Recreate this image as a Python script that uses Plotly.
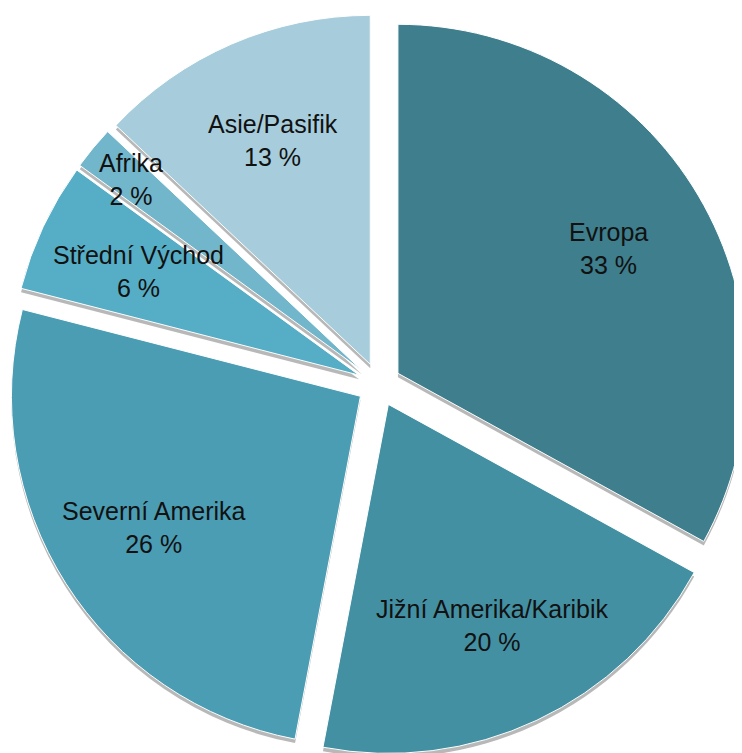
import math
import plotly.graph_objects as go

# ---- data ----
regions = ["Evropa", "Jižní Amerika/Karibik", "Severní Amerika",
           "Střední Východ", "Afrika", "Asie/Pasifik"]
shares = [33, 20, 26, 6, 2, 13]
share_labels = ["33 %", "20 %", "26 %", "6 %", "2 %", "13 %"]

# ---- style ----
colors = ["#3e7e8d", "#4490a3", "#4b9db4", "#56aec6", "#72b6cb", "#a7cddc"]
W, H = 742, 753
PULL = 0.063
SHADOW_DY = 4  # px
LABEL_R = 0.70
LABEL_R_SPECIAL = {"Afrika": 0.86}
FONT = dict(family="Liberation Sans, Arial, Helvetica, sans-serif", size=25, color="#111111")

fig = go.Figure()

# soft drop shadow: a grey copy of the pie shifted slightly down
fig.add_trace(go.Pie(
    values=shares, labels=regions, sort=False, direction="clockwise", rotation=0,
    pull=[PULL] * len(shares),
    marker=dict(colors=["#b8b8b8"] * len(shares), line=dict(width=0)),
    textinfo="none", hoverinfo="skip", showlegend=False,
    domain=dict(x=[0, 1], y=[0, 1 - 2 * SHADOW_DY / H]),
))

fig.add_trace(go.Pie(
    values=shares, labels=regions, sort=False, direction="clockwise", rotation=0,
    pull=[PULL] * len(shares),
    marker=dict(colors=colors, line=dict(color="white", width=1)),
    textinfo="none", showlegend=False,
    domain=dict(x=[0, 1], y=[0, 1]),
))

# labels placed along each slice's mid-angle (derived from the values)
total = sum(shares)
r = min(W, H) / (2 * (1 + PULL))
cx, cy = W / 2, H / 2
cum = 0
annotations = []
for name, v, lab in zip(regions, shares, share_labels):
    mid = (cum + v / 2) / total
    cum += v
    th = 2 * math.pi * mid
    k = PULL + LABEL_R_SPECIAL.get(name, LABEL_R)
    px = cx + k * r * math.sin(th)
    py = cy + k * r * math.cos(th)
    annotations.append(dict(
        x=px / W, y=py / H, xref="paper", yref="paper",
        text=f"{name}<br>{lab}", showarrow=False,
        xanchor="center", yanchor="middle", font=FONT, align="center",
    ))

fig.update_layout(
    width=W, height=H,
    margin=dict(l=0, r=0, t=0, b=0),
    paper_bgcolor="white", plot_bgcolor="white",
    annotations=annotations,
    showlegend=False,
)

fig.write_html("out.html")
